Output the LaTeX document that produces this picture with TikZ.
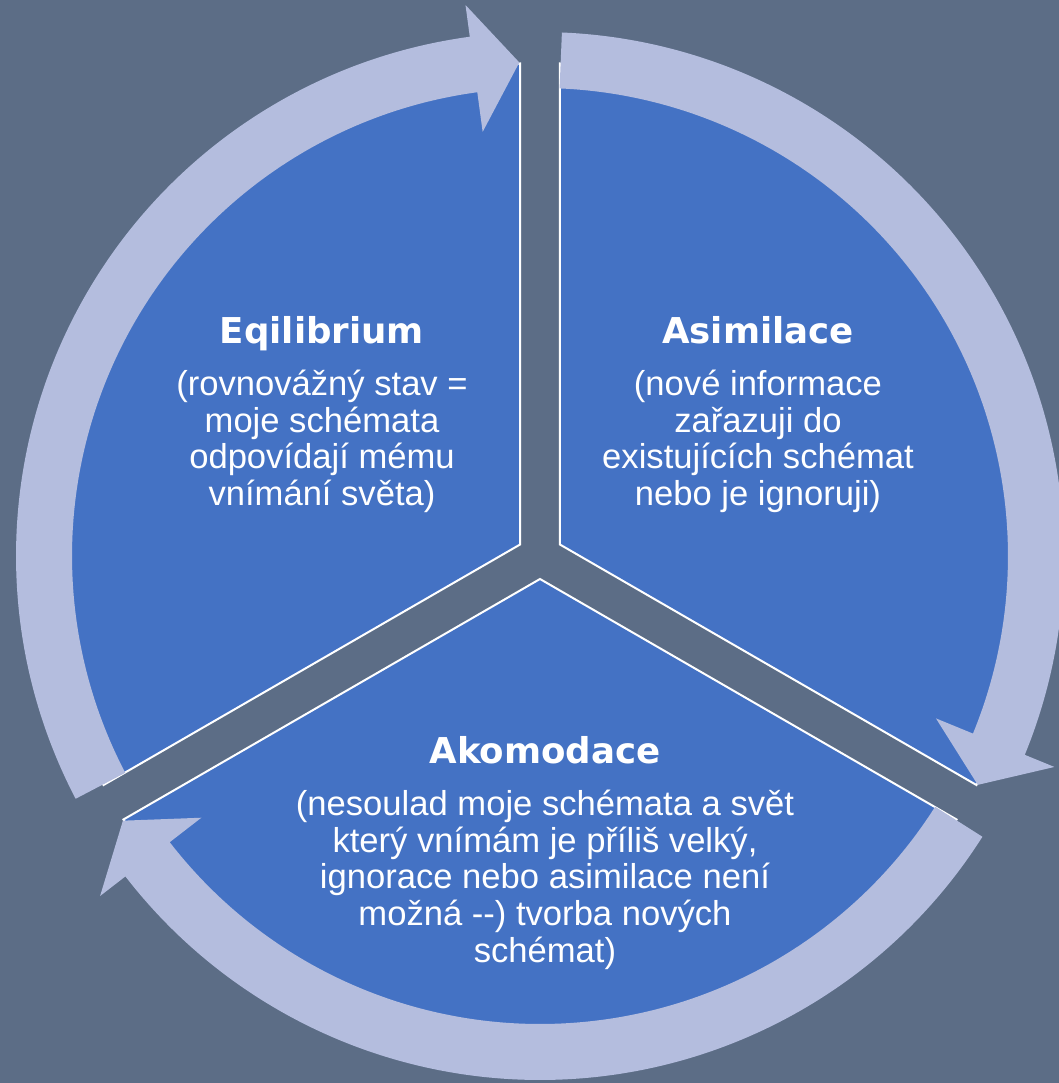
\documentclass[tikz,border=0pt]{standalone}
\usepackage{fontspec}
\setmainfont{Liberation Sans}
\newfontfamily\headfont{DejaVu Sans}
\usepackage{xcolor}
\usepackage{tikz}
\usetikzlibrary{positioning}
\definecolor{bgslate}{HTML}{5C6D86}
\definecolor{wedgeblue}{HTML}{4472C4}
\definecolor{ringlav}{HTML}{B4BDDE}
\tikzstyle{wedge} = [fill=wedgeblue, draw=white, line width=1pt]
\tikzstyle{ringarrow} = [fill=ringlav, draw=none]
\tikzstyle{title} = [text=white, font=\headfont\bfseries\fontsize{17.8}{20}\selectfont, inner sep=0pt, text height=13pt, text depth=4pt]
\tikzstyle{body} = [text=white, font=\fontsize{17.3}{18.4}\selectfont, align=center, inner sep=0pt]

\begin{document}
\begin{tikzpicture}[x=0.5pt, y=0.5pt]
            \fill[bgslate] (-540,-527) rectangle (519,556);
            \clip (-540,-527) rectangle (519,556);

            % the three pie pieces
            \draw[wedge, shift={(150:23)}] (0,0) -- (90:481) arc[start angle=90, end angle=210, radius=481] -- cycle;
            \draw[wedge, shift={(30:23)}] (0,0) -- (-30:481) arc[start angle=-30, end angle=90, radius=481] -- cycle;
            \draw[wedge, shift={(270:23)}] (0,0) -- (210:481) arc[start angle=210, end angle=330, radius=481] -- cycle;

            % curved arrows round the pie
            \foreach \from/\to in {210/90, 90/-30, -30/-150} {
                \pgfmathsetmacro\tail{\from-2.4}
                \pgfmathsetmacro\base{\to+7.7}
                \pgfmathsetmacro\tip{\to+2.4}
                \fill[ringarrow] (\tail:524) arc[start angle=\tail, end angle=\base, radius=524]
                    -- (\base:556) -- (\tip:494) -- (\base:428) -- (\base:468)
                    arc[start angle=\base, end angle=\tail, radius=468] -- cycle;
            }

            \node[title] (eqTitle) at (-218,222) {Eqilibrium};
            \node[body, below=9pt of eqTitle] (eqText){
                (rovnovážný stav =\\moje schémata\\odpovídají mému\\vnímání světa)
            };

            \node[title] (asTitle) at (218,222) {Asimilace};
            \node[body, below=9pt of asTitle] (asText){
                (nové informace\\zařazuji do\\existujících schémat\\nebo je ignoruji)
            };

            \node[title] (akTitle) at (5,-198) {Akomodace};
            \node[body, below=9pt of akTitle] (akText){
                (nesoulad moje schémata a svět\\který vnímám je příliš velký,\\ignorace nebo asimilace není\\možná -{}-) tvorba nových\\schémat)
            };

        \end{tikzpicture}
\end{document}
